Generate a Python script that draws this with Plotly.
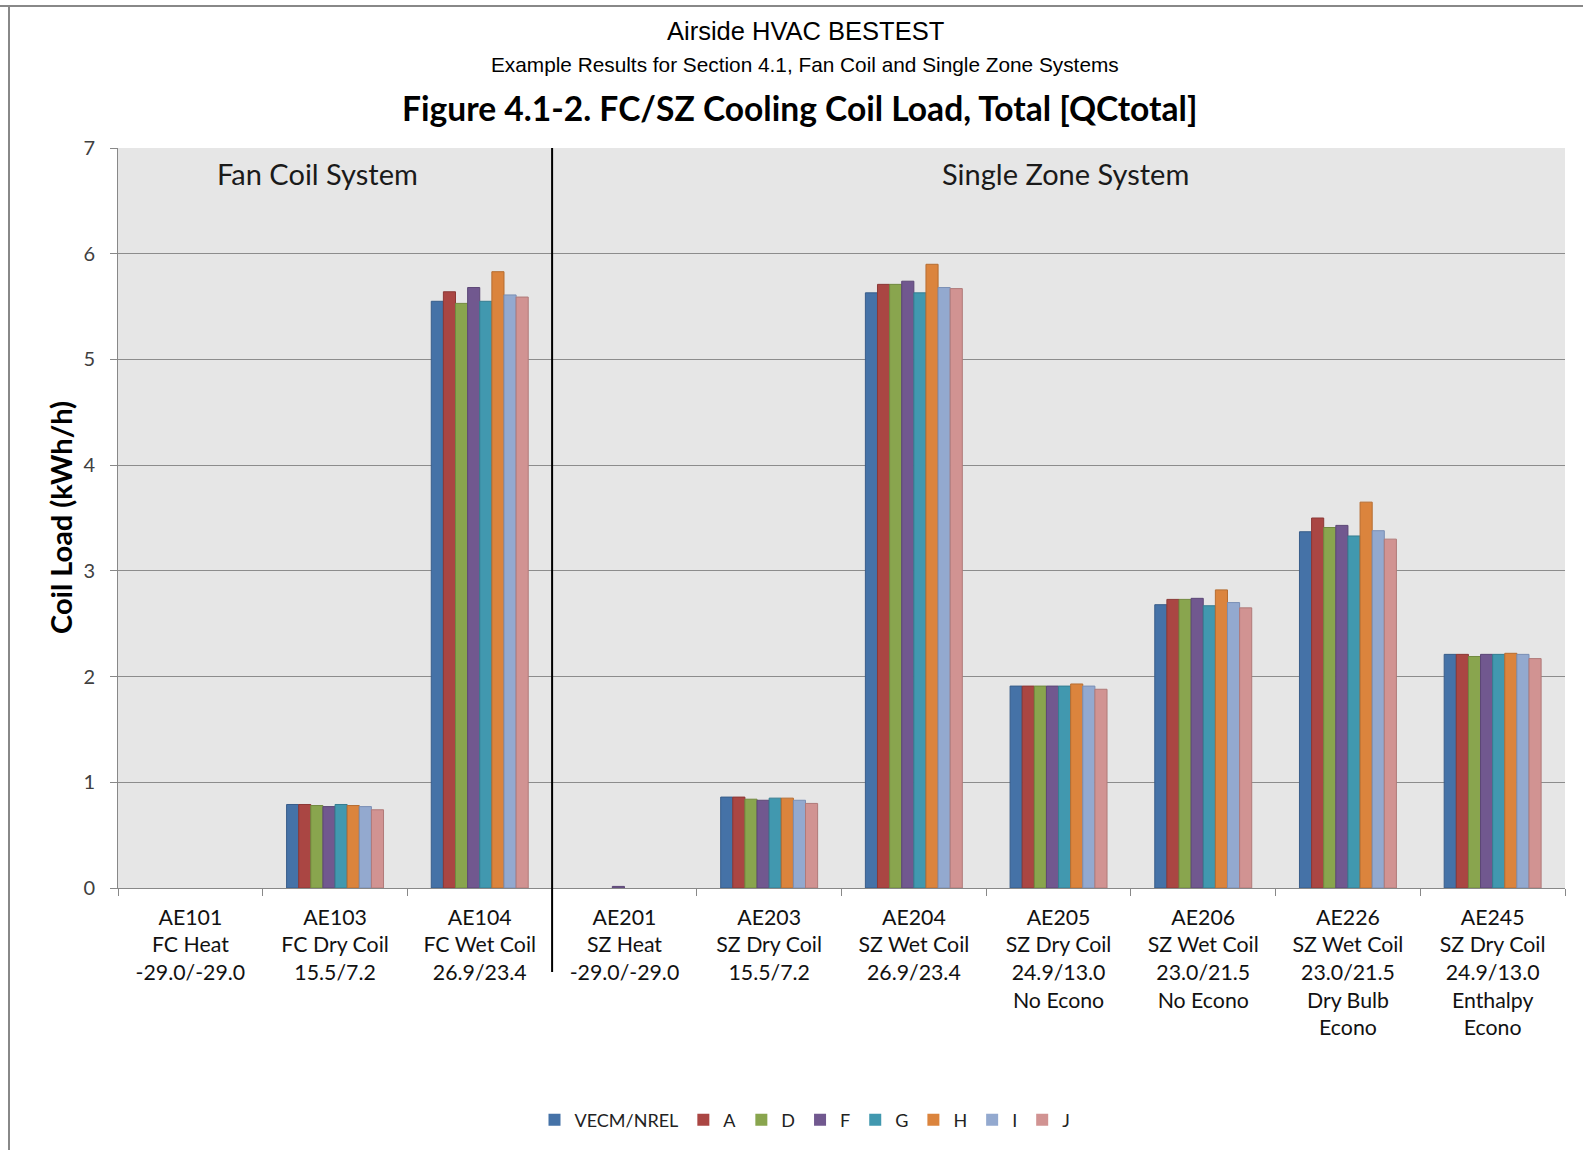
import plotly.graph_objects as go

# Test cases (category axis) and their multi-line descriptions
cases = ["AE101", "AE103", "AE104", "AE201", "AE203", "AE204",
         "AE205", "AE206", "AE226", "AE245"]
case_labels = [
    "AE101<br>FC Heat<br>-29.0/-29.0",
    "AE103<br>FC Dry Coil<br>15.5/7.2",
    "AE104<br>FC Wet Coil<br>26.9/23.4",
    "AE201<br>SZ Heat<br>-29.0/-29.0",
    "AE203<br>SZ Dry Coil<br>15.5/7.2",
    "AE204<br>SZ Wet Coil<br>26.9/23.4",
    "AE205<br>SZ Dry Coil<br>24.9/13.0<br>No Econo",
    "AE206<br>SZ Wet Coil<br>23.0/21.5<br>No Econo",
    "AE226<br>SZ Wet Coil<br>23.0/21.5<br>Dry Bulb<br>Econo",
    "AE245<br>SZ Dry Coil<br>24.9/13.0<br>Enthalpy<br>Econo",
]

# Total cooling coil load (kWh/h) by program
vecm_nrel = [0.0, 0.79, 5.55, 0.0, 0.86, 5.63, 1.91, 2.68, 3.37, 2.21]
prog_a    = [0.0, 0.79, 5.64, 0.0, 0.86, 5.71, 1.91, 2.73, 3.50, 2.21]
prog_d    = [0.0, 0.78, 5.53, 0.0, 0.84, 5.71, 1.91, 2.73, 3.41, 2.19]
prog_f    = [0.0, 0.77, 5.68, 0.015, 0.83, 5.74, 1.91, 2.74, 3.43, 2.21]
prog_g    = [0.0, 0.79, 5.55, 0.0, 0.85, 5.63, 1.91, 2.67, 3.33, 2.21]
prog_h    = [0.0, 0.78, 5.83, 0.0, 0.85, 5.90, 1.93, 2.82, 3.65, 2.22]
prog_i    = [0.0, 0.77, 5.61, 0.0, 0.83, 5.68, 1.91, 2.70, 3.38, 2.21]
prog_j    = [0.0, 0.74, 5.59, 0.0, 0.80, 5.67, 1.88, 2.65, 3.30, 2.17]

series_names = ["VECM/NREL", "A", "D", "F", "G", "H", "I", "J"]
series_values = [vecm_nrel, prog_a, prog_d, prog_f, prog_g, prog_h, prog_i, prog_j]
fill_colors = ["#4572A7", "#AA4643", "#89A54E", "#71588F",
               "#4198AF", "#DB843D", "#93A9CF", "#D19392"]
edge_colors = ["#385D8A", "#8C3836", "#71893F", "#5C4776",
               "#357D91", "#B66D31", "#7A8FB5", "#B07A79"]

y_ticks = [0, 1, 2, 3, 4, 5, 6, 7]

fig = go.Figure()
for name, vals, fc, ec in zip(series_names, series_values, fill_colors, edge_colors):
    # no outline on empty bars so zero results leave no stroke on the axis
    widths = [1 if v > 0 else 0 for v in vals]
    fig.add_trace(go.Bar(
        name=name, x=cases, y=vals,
        marker=dict(color=fc, line=dict(color=ec, width=widths)),
    ))

# Pixel geometry of the plotting area
W, H = 1583, 1150
L, R, T, B = 118, 18, 148, 262
pw, ph = W - L - R, H - T - B

def px_x(px):
    return (px - L) / pw

def px_y(py):
    return (H - B - py) / ph

base_font = "Lato, 'Open Sans', sans-serif"
arial = "'Liberation Sans', Arial, sans-serif"

annotations = [
    dict(text="Airside HVAC BESTEST", x=px_x(805), y=px_y(31), xref="paper", yref="paper",
         showarrow=False, font=dict(family=arial, size=25.5, color="#000000"),
         xanchor="center", yanchor="middle"),
    dict(text="Example Results for Section 4.1, Fan Coil and Single Zone Systems",
         x=px_x(805), y=px_y(64), xref="paper", yref="paper", showarrow=False,
         font=dict(family=arial, size=20.8, color="#000000"),
         xanchor="center", yanchor="middle"),
    dict(text="<b>Figure 4.1-2. FC/SZ Cooling Coil Load, Total [QCtotal]</b>",
         x=px_x(799), y=px_y(108), xref="paper", yref="paper", showarrow=False,
         font=dict(family=base_font, size=33.6, color="#000000"),
         xanchor="center", yanchor="middle"),
    dict(text="<b>Coil Load (kWh/h)</b>", x=px_x(60), y=px_y(518),
         xref="paper", yref="paper", showarrow=False, textangle=-90,
         font=dict(family=base_font, size=29, color="#000000"),
         xanchor="center", yanchor="middle"),
    dict(text="Fan Coil System", x=px_x(317), y=px_y(174), xref="paper", yref="paper",
         showarrow=False, font=dict(family=base_font, size=29, color="#1a1a1a"),
         xanchor="center", yanchor="middle"),
    dict(text="Single Zone System", x=px_x(1065), y=px_y(174), xref="paper", yref="paper",
         showarrow=False, font=dict(family=base_font, size=29, color="#1a1a1a"),
         xanchor="center", yanchor="middle"),
]

shapes = [
    # divider between the fan coil and single zone groups
    dict(type="line", xref="x", yref="paper", x0=2.5, x1=2.5,
         y0=1, y1=px_y(972), line=dict(color="#000000", width=2)),
    # outer frame
    dict(type="line", xref="paper", yref="paper", x0=px_x(0), x1=px_x(W),
         y0=px_y(6), y1=px_y(6), line=dict(color="#888888", width=2)),
    dict(type="line", xref="paper", yref="paper", x0=px_x(9), x1=px_x(9),
         y0=px_y(6), y1=px_y(H), line=dict(color="#888888", width=2)),
]

fig.update_layout(
    width=W, height=H,
    margin=dict(l=L, r=R, t=T, b=B, pad=0),
    paper_bgcolor="#FFFFFF",
    plot_bgcolor="#E6E6E6",
    barmode="group",
    bargap=0.33,
    bargroupgap=0,
    showlegend=True,
    legend=dict(orientation="h", x=px_x(805), y=px_y(1120), xanchor="center",
                yanchor="middle", font=dict(family=base_font, size=18, color="#222222"),
                itemwidth=30, traceorder="normal"),
    annotations=annotations,
    shapes=shapes,
    font=dict(family=base_font),
)

fig.update_xaxes(
    type="category", tickmode="array", tickvals=cases, ticktext=case_labels,
    tickson="boundaries", ticks="outside", ticklen=7, tickcolor="#888888",
    showline=True, linecolor="#888888", linewidth=1,
    tickfont=dict(family=base_font, size=21.3, color="#111111"),
    ticklabelstandoff=10,
    showgrid=False, range=[-0.5, 9.5],
)
fig.update_yaxes(
    range=[0, 7], tickmode="array", tickvals=y_ticks,
    ticks="outside", ticklen=7, tickcolor="#888888",
    showline=True, linecolor="#888888", linewidth=1,
    showgrid=True, gridcolor="#8C8C8C", gridwidth=1,
    tickfont=dict(family=base_font, size=20, color="#404040"),
    ticklabelstandoff=11,
    zeroline=False,
)

fig.write_html("out.html")
